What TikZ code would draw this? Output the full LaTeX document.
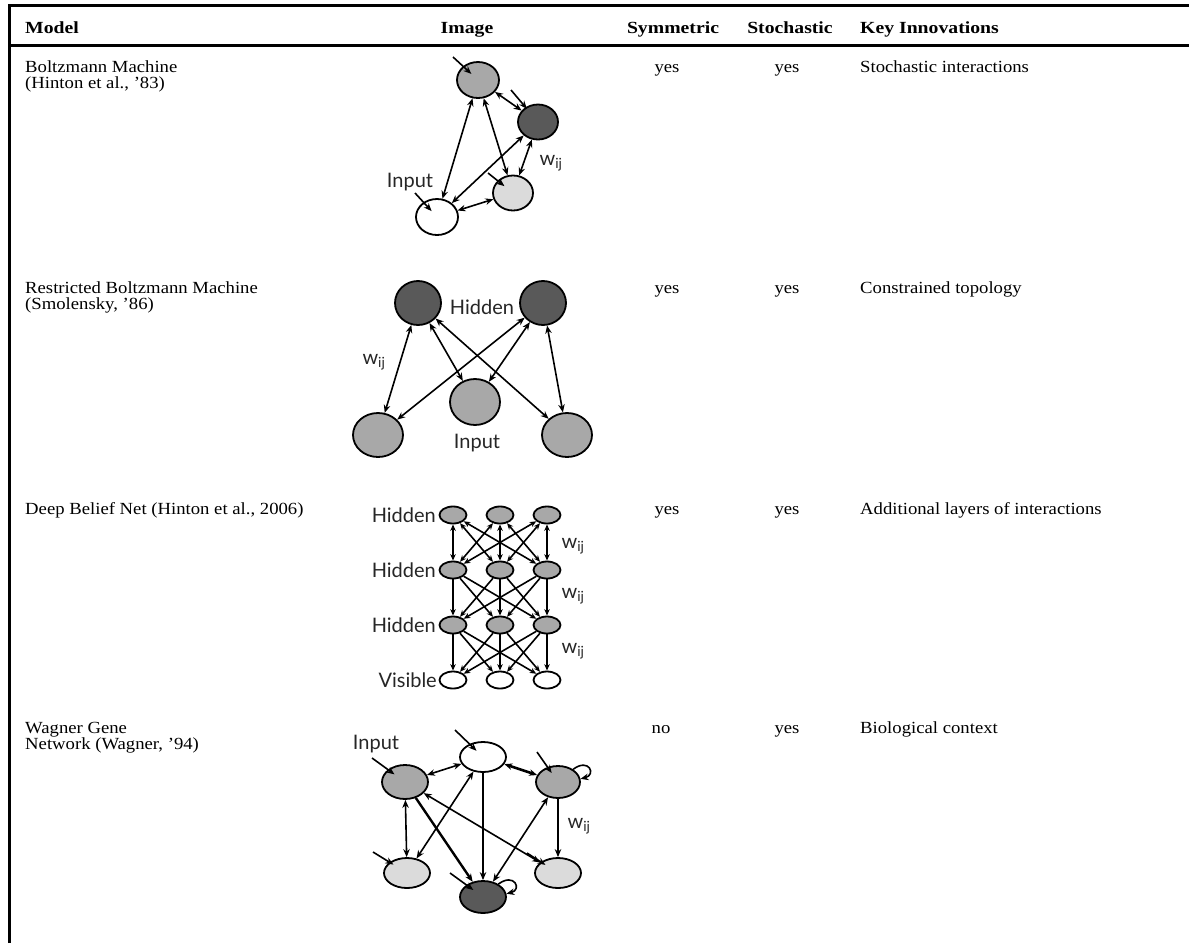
\documentclass[tikz,border=0pt]{standalone}
\usepackage{fontspec}
\setmainfont{Liberation Serif}
\newfontfamily\dfont{Lato}
\usetikzlibrary{arrows.meta,shapes.geometric}
\newcommand{\hs}[1]{\scalebox{1.1}[1]{#1}}
\newcommand{\hsb}[1]{\scalebox{1.16}[1]{#1}}
\definecolor{gmid}{gray}{0.66}
\definecolor{gdark}{gray}{0.35}
\definecolor{glight}{gray}{0.86}
\definecolor{lblc}{gray}{0.15}
\begin{document}
\begin{tikzpicture}[x=1pt,y=-1pt,
  >={Stealth[length=8pt,width=6.5pt]},
  cell/.style={inner sep=0pt,anchor=base west,font=\fontsize{17}{16}\selectfont},
  ctr/.style={cell,anchor=base},
  hdr/.style={cell,font=\fontsize{17}{16}\selectfont\bfseries},
  hdrc/.style={hdr,anchor=base},
  nd/.style={ellipse,draw,line width=1.8pt,inner sep=0pt},
  lbl/.style={inner sep=0pt,text=lblc,font=\dfont\fontsize{20}{20}\selectfont},
  edge/.style={line width=1.6pt},
  inarr/.style={->,line width=1.6pt},
  small/.style={>={Stealth[length=6.5pt,width=5.5pt]}}
]
\useasboundingbox (0,0) rectangle (1189,943);
% table frame
\draw[line width=2.7pt,line join=miter] (9.7,943) -- (9.7,5.3) -- (1189,5.3);
\draw[line width=2.7pt] (8.4,45.3) -- (1189,45.3);
% header
\node[hdr] (hm) at (25,33) {\hsb{Model}};
\node[hdrc] (hi) at (467,33) {\hsb{Image}};
\node[hdrc] (hs) at (673,33) {\hsb{Symmetric}};
\node[hdrc] (hst) at (790,33) {\hsb{Stochastic}};
\node[hdr] (hk) at (860,33) {\hsb{Key Innovations}};
% row 1
\node[cell] (r1a) at (25,72) {\hs{Boltzmann Machine}};
\node[cell] (r1b) at (25,88) {\hs{(Hinton et al., ’83)}};
\node[ctr] (r1s) at (667,72) {\hs{yes}};
\node[ctr] (r1t) at (787,72) {\hs{yes}};
\node[cell] (r1k) at (860,72) {\hs{Stochastic interactions}};
% row 2
\node[cell] (r2a) at (25,293) {\hs{Restricted Boltzmann Machine}};
\node[cell] (r2b) at (25,309) {\hs{(Smolensky, ’86)}};
\node[ctr] (r2s) at (667,293) {\hs{yes}};
\node[ctr] (r2t) at (787,293) {\hs{yes}};
\node[cell] (r2k) at (860,293) {\hs{Constrained topology}};
% row 3
\node[cell] (r3a) at (25,514) {\hs{Deep Belief Net (Hinton et al., 2006)}};
\node[ctr] (r3s) at (667,514) {\hs{yes}};
\node[ctr] (r3t) at (787,514) {\hs{yes}};
\node[cell] (r3k) at (860,514) {\hs{Additional layers of interactions}};
% row 4
\node[cell] (r4a) at (25,733) {\hs{Wagner Gene}};
\node[cell] (r4b) at (25,749) {\hs{Network (Wagner, ’94)}};
\node[ctr] (r4s) at (661,733) {\hs{no}};
\node[ctr] (r4t) at (787,733) {\hs{yes}};
\node[cell] (r4k) at (860,733) {\hs{Biological context}};

% ===== Boltzmann machine
\node[nd,fill=gmid,minimum width=42pt,minimum height=36pt] (b1) at (478,80) {};
\node[nd,fill=gdark,minimum width=40pt,minimum height=35pt] (b2) at (538,122) {};
\node[nd,fill=glight,minimum width=40pt,minimum height=35pt] (b3) at (513,193) {};
\node[nd,fill=white,minimum width=42pt,minimum height=36pt] (b4) at (437,217) {};
\draw[edge,<->] (b1) -- (b2);
\draw[edge,<->] (b1) -- (b4);
\draw[edge,<->] (b1) -- (b3);
\draw[edge,<->] (b2) -- (b4);
\draw[edge,<->] (b2) -- (b3);
\draw[edge,<->] (b4) -- (b3);
\coordinate (bi1) at (453,57);
\coordinate (bi2) at (511,90);
\coordinate (bi3) at (488,173);
\coordinate (bi4) at (415,193);
\draw[inarr,shorten >=9pt] (bi1) -- (b1.center);
\draw[inarr,shorten >=-2pt] (bi2) -- (b2);
\draw[inarr,shorten >=11pt] (bi3) -- (b3.center);
\draw[inarr,shorten >=8pt] (bi4) -- (b4.center);
\node[lbl] (binp) at (410,182) {Input};
\node[lbl] (bw) at (551,163) {w\textsubscript{ij}};

% ===== RBM
\node[nd,fill=gdark,minimum width=46pt,minimum height=44pt] (h1) at (418,303) {};
\node[nd,fill=gdark,minimum width=46pt,minimum height=44pt] (h2) at (543,303) {};
\node[nd,fill=gmid,minimum width=50pt,minimum height=44pt] (v1) at (378,435) {};
\node[nd,fill=gmid,minimum width=50pt,minimum height=46pt] (v2) at (475,402) {};
\node[nd,fill=gmid,minimum width=50pt,minimum height=44pt] (v3) at (567,435) {};
\foreach \h in {h1,h2}{\foreach \v in {v1,v2,v3}{\draw[edge,<->] (\h) -- (\v);}}
\node[lbl] (rh) at (482,307) {Hidden};
\node[lbl] (ri) at (477,443) {Input};
\node[lbl] (rw) at (374,362) {w\textsubscript{ij}};

% ===== DBN
\foreach \r/\y in {1/515,2/570,3/625}{
  \foreach \c/\x in {1/453,2/500,3/547}{
    \node[nd,fill=gmid,minimum width=27pt,minimum height=17pt] (d\r\c) at (\x,\y) {};}}
\foreach \c/\x in {1/453,2/500,3/547}{
  \node[nd,fill=white,minimum width=27pt,minimum height=17pt] (d4\c) at (\x,680) {};}
\begin{scope}[small]
\foreach \a in {1,2,3}{\foreach \b in {1,2,3}{
  \draw[edge,<->] (d1\a) -- (d2\b);
  \draw[edge,->] (d2\a) -- (d3\b);
  \draw[edge,->] (d3\a) -- (d4\b);}}
\end{scope}
\node[lbl,anchor=east] (dl1) at (436,515) {Hidden};
\node[lbl,anchor=east] (dl2) at (436,570) {Hidden};
\node[lbl,anchor=east] (dl3) at (436,625) {Hidden};
\node[lbl,anchor=east] (dl4) at (437,680) {Visible};
\node[lbl] (dw1) at (573,546) {w\textsubscript{ij}};
\node[lbl] (dw2) at (573,596) {w\textsubscript{ij}};
\node[lbl] (dw3) at (573,651) {w\textsubscript{ij}};

% ===== Wagner
\node[nd,fill=white,minimum width=46pt,minimum height=30pt] (wt) at (483,757) {};
\node[nd,fill=gmid,minimum width=46pt,minimum height=34pt] (wl) at (405,782) {};
\node[nd,fill=gmid,minimum width=44pt,minimum height=32pt] (wr) at (558,782) {};
\node[nd,fill=glight,minimum width=46pt,minimum height=30pt] (wbl) at (407,873) {};
\node[nd,fill=glight,minimum width=46pt,minimum height=30pt] (wbr) at (558,873) {};
\node[nd,fill=gdark,minimum width=46pt,minimum height=32pt] (wbc) at (483,897) {};
\draw[edge,<->] (wl) -- (wt);
\draw[<->,line width=2.6pt] (wt) -- (wr);
\draw[edge,<->] (wt) -- (wbl);
\draw[edge,->] (wt) -- (wbc);
\draw[edge,<->] (wl) -- (wbl);
\draw[->,line width=2.4pt] (wl) -- (wbc);
\draw[edge,<->] (wl) -- (wbr);
\draw[edge,<->] (wr) -- (wbc);
\draw[edge,->] (wr) -- (wbr);
\draw[edge,->] (wr.40) .. controls +(16,-12) and +(16,-4) .. (wr.8);
\draw[edge,->] (wbc.40) .. controls +(16,-12) and +(16,-4) .. (wbc.8);
\coordinate (wi1) at (455,730);
\coordinate (wi2) at (372,758);
\coordinate (wi3) at (537,752);
\coordinate (wi4) at (373,852);
\coordinate (wi5) at (527,853);
\coordinate (wi6) at (450,873);
\draw[inarr,shorten >=9pt] (wi1) -- (wt.center);
\draw[inarr,shorten >=13pt] (wi2) -- (wl.center);
\draw[inarr,shorten >=11pt] (wi3) -- (wr.center);
\draw[inarr,shorten >=16pt] (wi4) -- (wbl.center);
\draw[inarr,shorten >=15pt] (wi5) -- (wbr.center);
\draw[inarr,shorten >=12pt] (wi6) -- (wbc.center);
\node[lbl] (winp) at (376,744) {Input};
\node[lbl] (ww) at (579,826) {w\textsubscript{ij}};
\end{tikzpicture}
\end{document}
